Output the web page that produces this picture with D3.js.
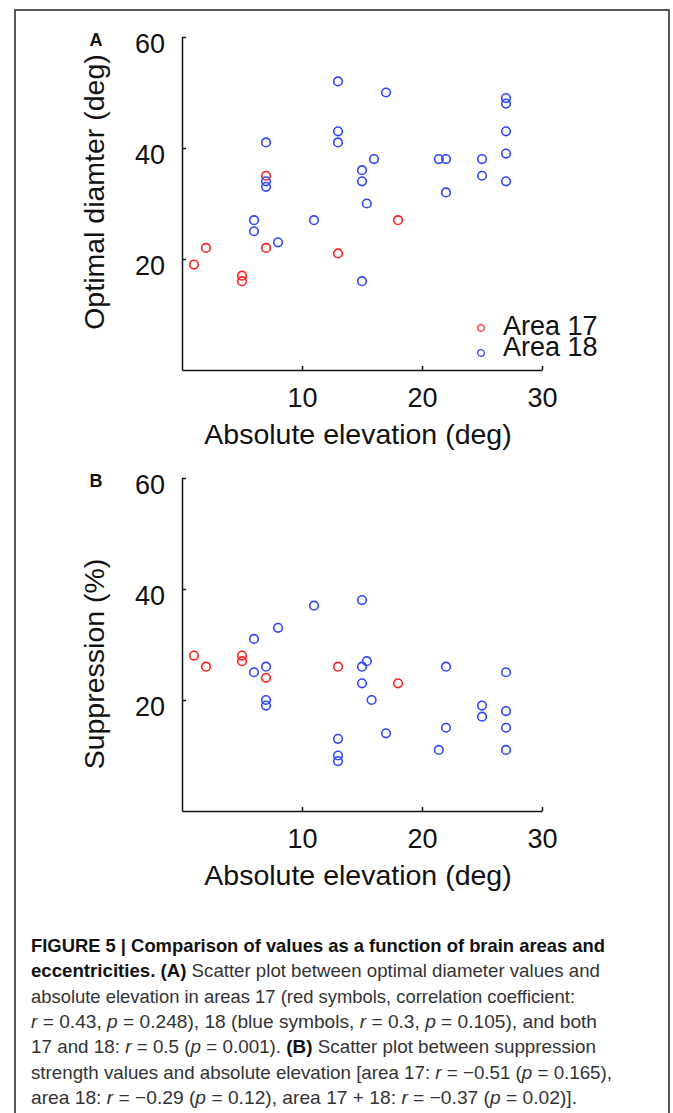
<!DOCTYPE html>
<html>
<head>
<meta charset="utf-8">
<script src="https://cdn.jsdelivr.net/npm/d3@7"></script>
<style>
  body { margin: 0; background: #fff; }
  svg { display: block; }
  .lbl { font-family: "Liberation Sans", Arial, Helvetica, sans-serif; fill: #111; }
  .cap { font-family: "Liberation Sans Narrow", "Arial Narrow", "Liberation Sans", Arial, sans-serif; fill: #333; font-size: 19px; }
</style>
</head>
<body>
<svg id="fig" width="673" height="1113"></svg>
<script>
'use strict';

// panel A: optimal diameter vs absolute elevation
var elevA17 = [1, 2, 5, 5, 7, 7, 13, 18];
var diamA17 = [19, 22, 17, 16, 22, 35, 21, 27];
var elevA18 = [6, 6, 7, 7, 7, 8, 11, 13, 13, 13, 15, 15, 15, 15.4, 16, 17, 21.4, 22, 22, 25, 25, 27, 27, 27, 27, 27];
var diamA18 = [27, 25, 41, 34, 33, 23, 27, 52, 43, 41, 36, 34, 16, 30, 38, 50, 38, 38, 32, 38, 35, 49, 48, 43, 39, 34];

// panel B: suppression vs absolute elevation
var elevB17 = [1, 2, 5, 5, 7, 13, 18];
var suppB17 = [28, 26, 28, 27, 24, 26, 23];
var elevB18 = [6, 6, 7, 7, 7, 8, 11, 13, 13, 13, 15, 15, 15.4, 15, 15.8, 17, 21.4, 22, 22, 25, 25, 27, 27, 27, 27];
var suppB18 = [31, 25, 26, 20, 19, 33, 37, 13, 10, 9, 38, 26, 27, 23, 20, 14, 11, 26, 15, 19, 17, 25, 18, 15, 11];

var xTicks = [10, 20, 30];
var yTicks = [20, 40, 60];
var legendNames = ['Area 17', 'Area 18'];

var RED = '#ff2020';
var BLUE = '#2e46ff';

var svg = d3.select('#fig');

// frame round the figure
svg.append('path')
	.attr('d', 'M15,1113V10H669V1113')
	.attr('fill', 'none')
	.attr('stroke', '#222')
	.attr('stroke-width', 1.5);

function zip(xs, ys) {
	return xs.map(function (x, i) { return { x: x, y: ys[i] }; });
}

function drawPanel(cfg) {
	var x = d3.scaleLinear().domain([0, 30]).range([182, 542]);
	var y = d3.scaleLinear().domain([0, 60]).range([cfg.bottom, cfg.top]);

	var g = svg.append('g');

	var yAxis = d3.axisLeft(y).tickValues(yTicks).tickSizeInner(-4).tickSizeOuter(0).tickPadding(17);
	var xAxis = d3.axisBottom(x).tickValues(xTicks).tickSizeInner(-4).tickSizeOuter(0).tickPadding(18);

	var ya = g.append('g').attr('transform', 'translate(182,0)').call(yAxis);
	var xa = g.append('g').attr('transform', 'translate(0,' + cfg.bottom + ')').call(xAxis);

	[ya, xa].forEach(function (a) {
		a.attr('font-family', '"Liberation Sans", Arial, Helvetica, sans-serif').attr('font-size', 27);
		a.selectAll('.domain, .tick line').attr('stroke', '#111').attr('stroke-width', 1.5);
		a.selectAll('text').attr('fill', '#111');
	});
	ya.selectAll('text').attr('dy', '0.56em');

	// axis labels
	g.append('text').attr('class', 'lbl')
		.attr('transform', 'translate(104,' + cfg.ylabelY + ') rotate(-90)')
		.attr('text-anchor', 'middle')
		.attr('font-size', 28.5)
		.text(cfg.ylabel);

	g.append('text').attr('class', 'lbl')
		.attr('x', 358).attr('y', cfg.bottom + 74)
		.attr('text-anchor', 'middle')
		.attr('font-size', 28.5)
		.text('Absolute elevation (deg)');

	// panel letter
	g.append('text').attr('class', 'lbl')
		.attr('x', 96).attr('y', cfg.top + 9)
		.attr('text-anchor', 'middle')
		.attr('font-size', 18).attr('font-weight', 'bold')
		.text(cfg.letter);

	// points: red area 17, then blue area 18
	cfg.series.forEach(function (s) {
		g.selectAll(null).data(s.data).enter().append('circle')
			.attr('cx', function (d) { return x(d.x); })
			.attr('cy', function (d) { return y(d.y); })
			.attr('r', 4.3)
			.attr('fill', 'none')
			.attr('stroke', s.color)
			.attr('stroke-width', 1.6);
	});

	if (cfg.legend) {
		var lg = g.append('g').attr('transform', 'translate(481,328)');
		legendNames.forEach(function (name, i) {
			lg.append('circle')
				.attr('cx', 0).attr('cy', i * 25)
				.attr('r', 3.3)
				.attr('fill', 'none')
				.attr('stroke', i === 0 ? RED : BLUE)
				.attr('stroke-width', 1.3);
			lg.append('text').attr('class', 'lbl')
				.attr('x', 22).attr('y', 7 + i * 21)
				.attr('font-size', 27)
				.text(name);
		});
	}
}

drawPanel({
	letter: 'A',
	top: 37,
	bottom: 370,
	ylabel: 'Optimal diamter (deg)',
	ylabelY: 192,
	legend: true,
	series: [
		{ color: RED, data: zip(elevA17, diamA17) },
		{ color: BLUE, data: zip(elevA18, diamA18) }
	]
});

drawPanel({
	letter: 'B',
	top: 478,
	bottom: 811,
	ylabel: 'Suppression (%)',
	ylabelY: 664,
	legend: false,
	series: [
		{ color: RED, data: zip(elevB17, suppB17) },
		{ color: BLUE, data: zip(elevB18, suppB18) }
	]
});

// caption: each line is a list of [text, style] pieces
var captionLines = [
	[['FIGURE 5 | Comparison of values as a function of brain areas and', 'b']],
	[['eccentricities. (A)', 'b'], [' Scatter plot between optimal diameter values and', '']],
	[['absolute elevation in areas 17 (red symbols, correlation coefficient:', '']],
	[['r', 'i'], [' = 0.43, ', ''], ['p', 'i'], [' = 0.248), 18 (blue symbols, ', ''], ['r', 'i'], [' = 0.3, ', ''], ['p', 'i'], [' = 0.105), and both', '']],
	[['17 and 18: ', ''], ['r', 'i'], [' = 0.5 (', ''], ['p', 'i'], [' = 0.001). ', ''], ['(B)', 'b'], [' Scatter plot between suppression', '']],
	[['strength values and absolute elevation [area 17: ', ''], ['r', 'i'], [' = \u22120.51 (', ''], ['p', 'i'], [' = 0.165),', '']],
	[['area 18: ', ''], ['r', 'i'], [' = \u22120.29 (', ''], ['p', 'i'], [' = 0.12), area 17 + 18: ', ''], ['r', 'i'], [' = \u22120.37 (', ''], ['p', 'i'], [' = 0.02)].', '']]
];
var captionEnds = [605, 600, 575, 597, 596, 612, 577];

captionLines.forEach(function (pieces, i) {
	var t = svg.append('text').attr('class', 'cap')
		.attr('x', 31).attr('y', 952 + i * 25.3)
		.attr('textLength', captionEnds[i] - 31)
		.attr('lengthAdjust', 'spacingAndGlyphs')
		.style('white-space', 'pre');
	pieces.forEach(function (p) {
		var ts = t.append('tspan').text(p[0]);
		if (p[1] === 'b') {
			ts.attr('font-weight', 'bold').attr('fill', '#111');
		}
		if (p[1] === 'i') {
			ts.attr('font-style', 'italic');
		}
	});
});
</script>
</body>
</html>
